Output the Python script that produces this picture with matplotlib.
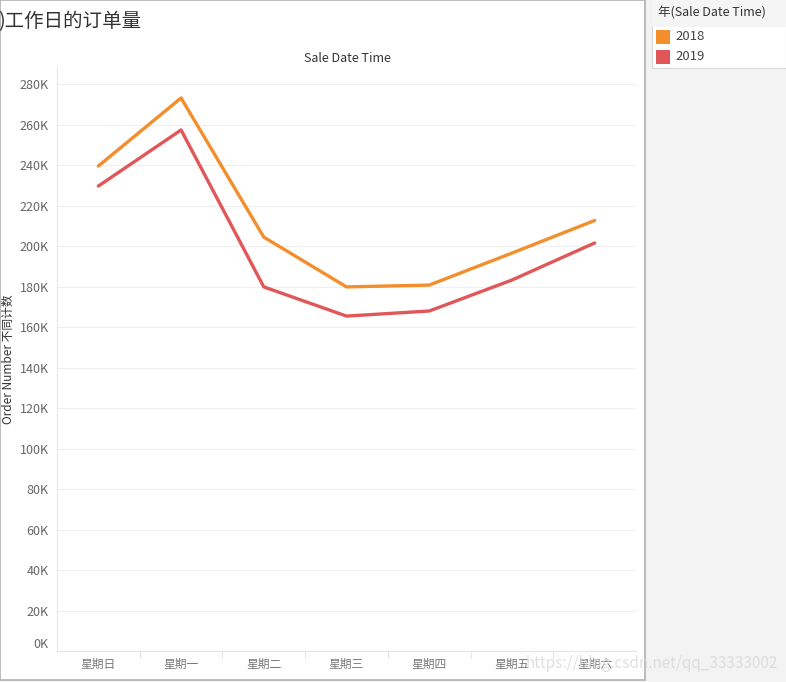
import numpy as np
import matplotlib.pyplot as plt
import matplotlib.transforms as mtransforms
from matplotlib.patches import Rectangle
from matplotlib.ticker import FuncFormatter

plt.rcParams['font.family'] = ['Noto Sans CJK SC', 'DejaVu Sans']

# 数据
days = ['星期日', '星期一', '星期二', '星期三', '星期四', '星期五', '星期六']
years = ['2018', '2019']
orders_2018 = [239500, 273100, 204400, 179800, 180700, 196500, 212600]
orders_2019 = [229600, 257300, 179800, 165400, 167900, 183200, 201500]
colors = ['#f28e2b', '#e15759']
yticks = list(range(0, 280001, 20000))

W, H = 786, 682
fig = plt.figure(figsize=(W / 100, H / 100), dpi=100)
fig.patch.set_facecolor('#f3f3f3')

def fx(x):
    return x / W

def fy(y):
    return 1 - y / H

# 白色工作表区域
fig.patches.append(Rectangle((0, fy(680)), fx(645), 680 / H, transform=fig.transFigure,
                             facecolor='white', edgecolor='#b0b0b0', lw=1.2, zorder=-5))

# 绘图区
ax = fig.add_axes([fx(57), fy(651), fx(636 - 57), (651 - 67) / H])
ax.set_zorder(2)
ax.set_facecolor('white')
x = np.arange(len(days))
ax.plot(x, orders_2018, color=colors[0], lw=2.4, solid_capstyle='round', zorder=3)
ax.plot(x, orders_2019, color=colors[1], lw=2.4, solid_capstyle='round', zorder=3)
ax.set_xlim(-0.5, len(days) - 0.5)
ax.set_ylim(0, 288400)
ax.set_yticks(yticks)
ax.yaxis.set_major_formatter(FuncFormatter(lambda v, p: '%dK' % (v / 1000)))
ax.grid(axis='y', color='#efefef', lw=0.8)
ax.set_axisbelow(True)
for s in ['top', 'right']:
    ax.spines[s].set_visible(False)
ax.spines['left'].set_color('#e6e6e6')
ax.spines['bottom'].set_color('#e6e6e6')
ax.tick_params(axis='y', length=0, labelsize=9, labelcolor='#666666', pad=6)
ax.set_xticks(x)
ax.set_xticklabels(days)
ax.tick_params(axis='x', length=0, labelsize=8.5, labelcolor='#777777', pad=5)
# 0K标签往上挪
lab0 = ax.get_yticklabels()[0]
lab0.set_transform(lab0.get_transform() + mtransforms.ScaledTranslation(0, 6 / 72, fig.dpi_scale_trans))

# 分隔竖线
for b in np.arange(0.5, len(days) - 0.5, 1):
    ax.plot([b, b], [0, -0.012], transform=ax.get_xaxis_transform(), color='#e6e6e6',
            lw=0.8, clip_on=False)

ax.set_ylabel('Order Number 不同计数', fontsize=8.5, color='#333333', labelpad=4)
ax.yaxis.set_label_coords(-0.073, 0.5)

fig.text(fx(347), fy(58), 'Sale Date Time', fontsize=9, color='#333333', ha='center', va='center')
fig.text(fx(-2), fy(22), ')工作日的订单量', fontsize=14, color='#333333', ha='left', va='center')

# 图例
fig.patches.append(Rectangle((fx(652), fy(68)), fx(786 - 652), 68 / H, transform=fig.transFigure,
                             facecolor='white', edgecolor='#d6d6d6', lw=0.8, zorder=1))
fig.patches.append(Rectangle((fx(652), fy(27)), fx(786 - 652), 27 / H, transform=fig.transFigure,
                             facecolor='#f5f5f5', edgecolor='none', zorder=1))
fig.text(fx(658), fy(13), '年(Sale Date Time)', fontsize=9, color='#333333', ha='left', va='center')
for i, (yr, c) in enumerate(zip(years, colors)):
    yc = 37 + i * 20
    fig.patches.append(Rectangle((fx(656), fy(yc + 7)), fx(14), 14 / H, transform=fig.transFigure,
                                 facecolor=c, edgecolor='none', zorder=2))
    fig.text(fx(675), fy(yc), yr, fontsize=9.5, color='#444444', ha='left', va='center')

# 水印
fig.text(fx(778), fy(663), 'https://blog.csdn.net/qq_33333002', fontsize=11, color='#d8d8d8',
         ha='right', va='center', alpha=0.8, zorder=10)

fig.savefig('out.png', dpi=100, facecolor=fig.get_facecolor())
